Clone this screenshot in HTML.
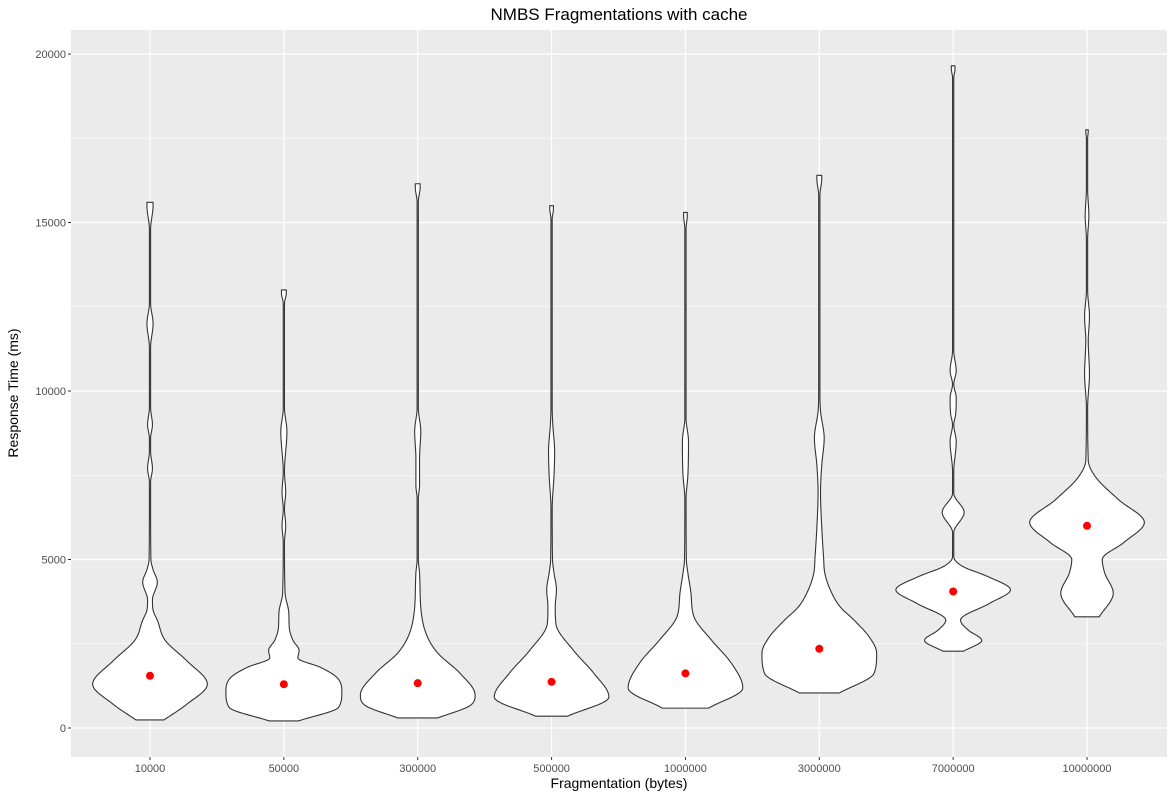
<!DOCTYPE html>
<html><head><meta charset="utf-8"><style>
body{margin:0;background:#fff;}
svg{display:block;font-family:"Liberation Sans",sans-serif;}
</style></head><body>
<svg id="chart" width="1175" height="799"></svg>
<script>
const categories=["10000","50000","300000","500000","1000000","3000000","7000000","10000000"];
const means=[1550,1300,1330,1370,1620,2350,4050,6000];
const yTicks=[0,5000,10000,15000,20000];
const yMinor=[2500,7500,12500,17500];
// density profiles: [value, relative half-width]
const prof0=[[240,0.23],[700,0.6],[1300,0.94],[2000,0.6],[2600,0.25],[3200,0.12],[3500,0.05],[3800,0.04],[4330,0.12],[4700,0.05],[5000,0.015],[6500,0.01],[7300,0.01],[7700,0.04],[8200,0.01],[8600,0.01],[9000,0.04],[9500,0.01],[11300,0.01],[12000,0.05],[12600,0.01],[14800,0.01],[15500,0.05],[15600,0.05]];
const prof1=[[210,0.24],[620,0.9],[1070,0.95],[1500,0.87],[1800,0.6],[2080,0.23],[2300,0.25],[2600,0.15],[2960,0.09],[3440,0.08],[4000,0.02],[5500,0.01],[6000,0.03],[6500,0.01],[7000,0.03],[7600,0.01],[8800,0.05],[9500,0.01],[12600,0.01],[12900,0.04],[13000,0.04]];
const prof2=[[300,0.33],[680,0.87],[980,0.94],[1630,0.69],[2220,0.33],[2700,0.16],[3400,0.06],[4600,0.03],[5000,0.01],[6800,0.01],[7200,0.03],[8000,0.03],[8800,0.05],[9500,0.01],[15600,0.01],[16050,0.04],[16150,0.04]];
const prof3=[[350,0.26],[920,0.94],[1630,0.69],[2300,0.36],[3100,0.07],[3600,0.06],[4100,0.08],[4600,0.04],[5000,0.015],[6500,0.01],[7500,0.04],[8200,0.05],[9000,0.02],[9500,0.01],[15100,0.01],[15400,0.03],[15500,0.03]];
const prof4=[[590,0.38],[1190,0.94],[1930,0.75],[2600,0.43],[3300,0.14],[4000,0.09],[4600,0.04],[5000,0.015],[6800,0.01],[7500,0.04],[8500,0.05],[9200,0.01],[14800,0.01],[15200,0.03],[15300,0.03]];
const prof5=[[1040,0.33],[1630,0.9],[2220,0.94],[2700,0.82],[3200,0.57],[3600,0.34],[4100,0.18],[4600,0.09],[5070,0.07],[5960,0.04],[7000,0.02],[7800,0.04],[8600,0.08],[9400,0.02],[10000,0.01],[15800,0.01],[16300,0.04],[16400,0.04]];
const prof6=[[2280,0.17],[2600,0.47],[2900,0.25],[3200,0.12],[3700,0.6],[4100,0.94],[4500,0.56],[4800,0.15],[5080,0.01],[5800,0.01],[6400,0.18],[6960,0.01],[7600,0.01],[8500,0.05],[9000,0.01],[9300,0.04],[9800,0.05],[10200,0.01],[10600,0.05],[11200,0.01],[19300,0.01],[19550,0.03],[19650,0.03]];
const prof7=[[3300,0.2],[4000,0.43],[4600,0.29],[5000,0.25],[5500,0.6],[6100,0.94],[6770,0.52],[7450,0.14],[7950,0.02],[9500,0.01],[10500,0.04],[11500,0.02],[12200,0.04],[13000,0.01],[14500,0.01],[15200,0.03],[16000,0.01],[17500,0.01],[17700,0.02],[17750,0.02]];
const profiles=[prof0,prof1,prof2,prof3,prof4,prof5,prof6,prof7];

const svg=document.getElementById('chart');
const NS='http://www.w3.org/2000/svg';
const PX0=71,PX1=1167,PY0=30,PY1=757;
const yScale=v=>728-v*(674/20000);
const xScale=i=>150+i*133.86;
const HALF=61;
function mk(tag,attrs,parent){const e=document.createElementNS(NS,tag);for(const k in attrs)e.setAttribute(k,attrs[k]);(parent||svg).appendChild(e);return e;}

const panel=mk('rect',{x:PX0,y:PY0,width:PX1-PX0,height:PY1-PY0,fill:'#ebebeb'});


yMinor.forEach(v=>{const l=mk('line',{x1:PX0,x2:PX1,y1:yScale(v),y2:yScale(v),stroke:'#fff','stroke-width':0.6});

});
yTicks.forEach(v=>{const l=mk('line',{x1:PX0,x2:PX1,y1:yScale(v),y2:yScale(v),stroke:'#fff','stroke-width':1.2});


const tk=mk('line',{x1:PX0-3,x2:PX0,y1:yScale(v),y2:yScale(v),stroke:'#333','stroke-width':1});


const t=mk('text',{x:PX0-5,y:yScale(v)+4,'text-anchor':'end','font-size':11,fill:'#4d4d4d'});t.textContent=v;

});
categories.forEach((c,i)=>{const x=xScale(i);
const l=mk('line',{x1:x,x2:x,y1:PY0,y2:PY1,stroke:'#fff','stroke-width':1.2});


const tk=mk('line',{x1:x,x2:x,y1:PY1,y2:PY1+3,stroke:'#333','stroke-width':1});


const t=mk('text',{x:x,y:PY1+15,'text-anchor':'middle','font-size':11,fill:'#4d4d4d'});t.textContent=c;

});

// monotone cubic (Fritsch-Carlson) interpolation of width vs value
function monotone(p){
 const n=p.length,xs=p.map(a=>a[0]),ys=p.map(a=>a[1]);
 const d=[],m=new Array(n);
 for(let i=0;i<n-1;i++)d.push((ys[i+1]-ys[i])/(xs[i+1]-xs[i]));
 m[0]=d[0];m[n-1]=d[n-2];
 for(let i=1;i<n-1;i++){m[i]=(d[i-1]*d[i]<=0)?0:(d[i-1]+d[i])/2;}
 for(let i=0;i<n-1;i++){if(d[i]===0){m[i]=0;m[i+1]=0;continue;}
  const a=m[i]/d[i],b=m[i+1]/d[i],s=a*a+b*b;if(s>9){const t=3/Math.sqrt(s);m[i]=t*a*d[i];m[i+1]=t*b*d[i];}}
 return v=>{let i=0;while(i<n-2&&v>xs[i+1])i++;
  const h=xs[i+1]-xs[i],t=(v-xs[i])/h,t2=t*t,t3=t2*t;
  return (2*t3-3*t2+1)*ys[i]+(t3-2*t2+t)*h*m[i]+(-2*t3+3*t2)*ys[i+1]+(t3-t2)*h*m[i+1];};
}
profiles.forEach((p,i)=>{
 const cx=xScale(i),f=monotone(p);
 const lo=p[0][0],hi=p[p.length-1][0],N=400;
 const samp=[];
 for(let k=0;k<=N;k++){const v=lo+(hi-lo)*k/N;samp.push([v,Math.max(0.006,f(v))]);}
 let d='';
 samp.forEach(([v,w],k)=>{d+=(k?'L':'M')+(cx+w*HALF).toFixed(2)+','+yScale(v).toFixed(2);});
 for(let k=N;k>=0;k--){const [v,w]=samp[k];d+='L'+(cx-w*HALF).toFixed(2)+','+yScale(v).toFixed(2);}
 d+='Z';
 const path=mk('path',{d:d,fill:'#fff',stroke:'#333','stroke-width':1.1,'stroke-linejoin':'round'});
 
 
 const c=mk('circle',{cx:cx,cy:yScale(means[i]),r:4,fill:'#ff0000'});
 
 
});

const title=mk('text',{x:619,y:20,'text-anchor':'middle','font-size':17,fill:'#000'});title.textContent='NMBS Fragmentations with cache';


const xt=mk('text',{x:619,y:788,'text-anchor':'middle','font-size':14,fill:'#000'});xt.textContent='Fragmentation (bytes)';


const yt=mk('text',{x:0,y:0,'text-anchor':'middle','font-size':14,fill:'#000',transform:'translate(18,393) rotate(-90)'});yt.textContent='Response Time (ms)';


</script>
</body></html>
